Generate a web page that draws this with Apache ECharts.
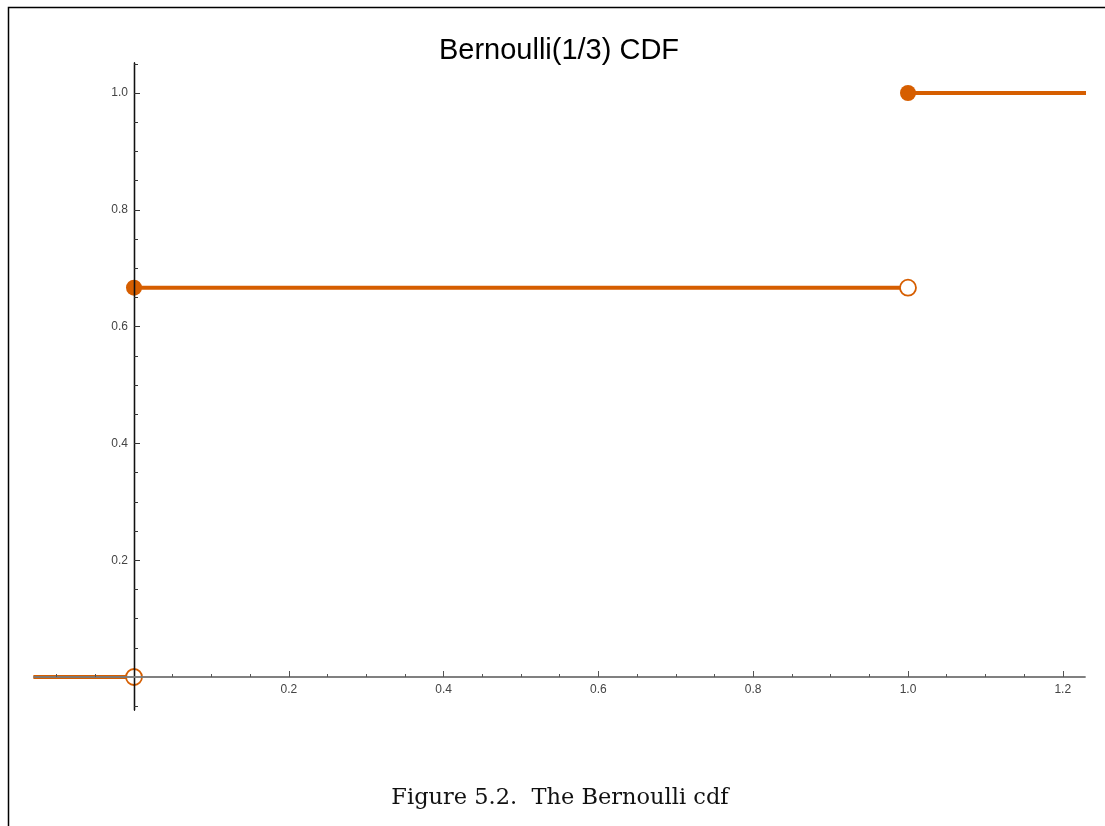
<!DOCTYPE html>
<html>
<head>
<meta charset="utf-8">
<script src="https://cdn.jsdelivr.net/npm/echarts@6/dist/echarts.min.js"></script>
<style>
  html, body { margin: 0; padding: 0; background: #fff; }
  #main { width: 1105px; height: 826px; }
</style>
</head>
<body>
<div id="main"></div>
<script>
// steps of the CDF
var segLow = [[-0.13, 0], [0, 0]];
var segMid = [[0, 2 / 3], [1, 2 / 3]];
var segHigh = [[1, 1], [1.23, 1]];
var closedPts = [[0, 2 / 3], [1, 1]];
var openPts = [[0, 0], [1, 2 / 3]];

var xTicks = [0.2, 0.4, 0.6, 0.8, 1.0, 1.2];
var xMinor = [-0.1, -0.05, 0.05, 0.1, 0.15, 0.25, 0.3, 0.35, 0.45, 0.5, 0.55, 0.65, 0.7, 0.75,
  0.85, 0.9, 0.95, 1.05, 1.1, 1.15];
var yTicks = [0.2, 0.4, 0.6, 0.8, 1.0];
var yMinor = [-0.05, 0.05, 0.1, 0.15, 0.25, 0.3, 0.35, 0.45, 0.5, 0.55, 0.65, 0.7, 0.75,
  0.85, 0.9, 0.95, 1.05];

var orange = '#D65E00';
var font = 'Liberation Sans';

var myChart = echarts.init(document.getElementById('main'));

// axes are shifted inward so they cross at (0, 0)
function xAx(ticks, len, labels) {
  return {
    type: 'value', position: 'bottom', offset: -33, min: -0.1292, max: 1.2287, z: 5,
    axisLine: { onZero: false, lineStyle: { color: '#7a7a7a', width: 1.5 } },
    axisTick: { show: true, inside: true, length: len, customValues: ticks, lineStyle: { color: '#555', width: 1 } },
    axisLabel: { show: labels, customValues: ticks, margin: 7, color: '#444', fontSize: 12, fontFamily: font,
      formatter: function (v) { return v.toFixed(1); } },
    splitLine: { show: false }
  };
}
function yAx(ticks, len, labels) {
  return {
    type: 'value', position: 'left', offset: -100, min: -0.0565, max: 1.0514, z: 5,
    axisLine: { onZero: false, lineStyle: { color: '#111', width: 1.3 } },
    axisTick: { show: true, inside: true, length: len, customValues: ticks, lineStyle: { color: '#333', width: 1 } },
    axisLabel: { show: labels, customValues: ticks, margin: 6, color: '#444', fontSize: 12, fontFamily: font,
      formatter: function (v) { return v.toFixed(1); } },
    splitLine: { show: false }
  };
}

function seg(d) {
  return { type: 'line', data: d, symbol: 'none', z: 2, lineStyle: { color: orange, width: 4 } };
}

myChart.setOption({
  animation: false,
  title: [
    { text: 'Bernoulli(1/3) CDF', left: 554, top: 31, textAlign: 'center',
      textStyle: { fontFamily: font, fontSize: 29, fontWeight: 'normal', color: '#000' } },
    { text: 'Figure 5.2.  The Bernoulli cdf', left: 555, top: 782, textAlign: 'center',
      textStyle: { fontFamily: 'DejaVu Serif', fontSize: 22.5, fontWeight: 'normal', color: '#111' } }
  ],
  graphic: [{
    type: 'polyline',
    shape: { points: [[8.5, 826], [8.5, 7.5], [1105, 7.5]] },
    style: { stroke: '#000', lineWidth: 1.5, fill: null }
  }],
  grid: { left: 34, right: 20, top: 63, bottom: 116, containLabel: false },
  xAxis: [xAx(xTicks, 6, true), xAx(xMinor, 3, false)],
  yAxis: [yAx(yTicks, 6, true), yAx(yMinor, 4, false)],
  series: [
    seg(segLow), seg(segMid), seg(segHigh),
    { type: 'scatter', data: closedPts, symbolSize: 16, z: 4, itemStyle: { color: orange, opacity: 1 } },
    { type: 'scatter', data: openPts, symbolSize: 16, z: 4,
      itemStyle: { color: '#fff', borderColor: orange, borderWidth: 1.8, opacity: 1 } }
  ]
});
</script>
</body>
</html>
